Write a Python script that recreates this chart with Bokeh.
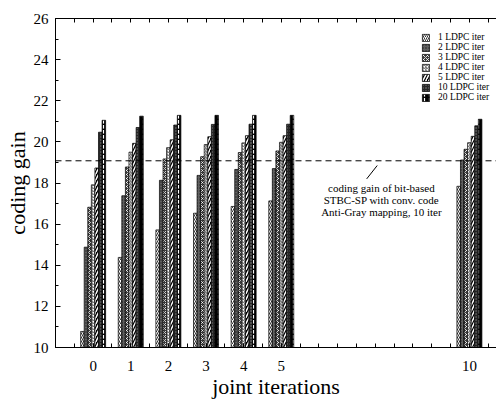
from bokeh.plotting import figure
from bokeh.models import (ColumnDataSource, Span, Label, FixedTicker, LinearAxis,
                          Legend, LegendItem, Range1d)
from bokeh.transform import dodge
from bokeh.embed import file_html
from bokeh.resources import INLINE

# ---- data -------------------------------------------------------------
groups = [0, 1, 2, 3, 4, 5, 10]
ldpc_1 = [10.78, 14.38, 15.72, 16.53, 16.86, 17.13, 17.84]
ldpc_2 = [14.88, 17.38, 18.13, 18.37, 18.66, 18.70, 19.12]
ldpc_3 = [16.82, 18.78, 19.17, 19.28, 19.48, 19.56, 19.64]
ldpc_4 = [17.91, 19.50, 19.72, 19.87, 19.95, 19.98, 19.96]
ldpc_5 = [18.73, 19.93, 20.10, 20.25, 20.30, 20.30, 20.27]
ldpc_10 = [20.47, 20.70, 20.82, 20.85, 20.86, 20.86, 20.78]
ldpc_20 = [21.05, 21.25, 21.29, 21.29, 21.29, 21.29, 21.10]
series_names = ["1 LDPC iter", "2 LDPC iter", "3 LDPC iter", "4 LDPC iter",
                "5 LDPC iter", "10 LDPC iter", "20 LDPC iter"]
reference_gain = 19.08
x_tick_values = [0, 1, 2, 3, 4, 5, 10]
y_tick_values = [10, 12, 14, 16, 18, 20, 22, 24, 26]
annotation_lines = ["coding gain of bit-based", "STBC-SP with conv. code",
                    "Anti-Gray mapping, 10 iter"]

series_values = [ldpc_1, ldpc_2, ldpc_3, ldpc_4, ldpc_5, ldpc_10, ldpc_20]
data = {"group": groups}
for i, vals in enumerate(series_values):
    data["s%d" % i] = vals
src = ColumnDataSource(data)

FONT = "Liberation Serif"

p = figure(width=496, height=408, output_backend="svg", toolbar_location=None,
           x_range=Range1d(-1, 10.72), y_range=Range1d(10, 26),
           min_border_left=55, min_border_right=0, min_border_top=18,
           min_border_bottom=61)
p.outline_line_color = None
p.xgrid.visible = False
p.ygrid.visible = False
p.background_fill_color = "white"

styles = [
    dict(fill_color="white", hatch_pattern="/", hatch_color="black", hatch_scale=4, hatch_weight=0.8),
    dict(fill_color="#606060", hatch_pattern=".", hatch_color="#202020", hatch_scale=3, hatch_weight=0.8),
    dict(fill_color="#3a3a3a", hatch_pattern="x", hatch_color="white", hatch_scale=4, hatch_weight=0.8),
    dict(fill_color="white", hatch_pattern="/", hatch_color="#555555", hatch_scale=3, hatch_weight=1.0),
    dict(fill_color="black", hatch_pattern="/", hatch_color="white", hatch_scale=6, hatch_weight=1.5),
    dict(fill_color="#262626", hatch_pattern=".", hatch_color="#8a8a8a", hatch_scale=3, hatch_weight=0.8),
    dict(fill_color="black", hatch_pattern="vertical_dash", hatch_color="white", hatch_scale=5, hatch_weight=1.2),
]

bw = 0.095
items = []
for i, name in enumerate(series_names):
    r = p.vbar(x=dodge("group", (i - 3) * bw, range=p.x_range), top="s%d" % i,
               bottom=10, width=bw, source=src, line_color="black",
               line_width=0.7, **styles[i])
    items.append(LegendItem(label=name, renderers=[r]))

# dashed reference line
p.add_layout(Span(location=reference_gain, dimension="width", line_color="black",
                  line_width=1, line_dash="6 4"))

# annotation
p.segment(x0=[7.55], y0=[18.85], x1=[7.27], y1=[18.2], line_color="black", line_width=1)
for k, txt in enumerate(annotation_lines):
    p.add_layout(Label(x=7.66, y=reference_gain, x_units="data", y_units="data",
                       y_offset=-27 - 12 * k, text=txt, text_font=FONT,
                       text_font_size="11px", text_align="center",
                       text_baseline="middle", text_color="black"))

# axes
half_steps = [t / 2 for t in range(-2, 22)]
xa = p.xaxis[0]
xa.ticker = FixedTicker(ticks=x_tick_values, minor_ticks=half_steps)
xa.major_tick_in = 4
xa.major_tick_out = 0
xa.minor_tick_in = 4
xa.minor_tick_out = 0
xa.axis_line_color = "black"
xa.major_tick_line_color = "black"
xa.minor_tick_line_color = "black"
xa.axis_label = "joint iterations"
xa.axis_label_text_font = FONT
xa.axis_label_text_font_style = "normal"
xa.axis_label_text_font_size = "22px"
xa.axis_label_text_color = "black"
xa.axis_label_standoff = 0
xa.major_label_text_font = FONT
xa.major_label_text_font_size = "15px"
xa.major_label_text_color = "black"
xa.major_label_standoff = 13

ya = p.yaxis[0]
ya.ticker = FixedTicker(ticks=y_tick_values, minor_ticks=list(range(10, 27)))
ya.major_tick_in = 5
ya.major_tick_out = 0
ya.minor_tick_in = 3
ya.minor_tick_out = 0
ya.axis_line_color = "black"
ya.major_tick_line_color = "black"
ya.minor_tick_line_color = "black"
ya.axis_label = "coding gain"
ya.axis_label_text_font = FONT
ya.axis_label_text_font_style = "normal"
ya.axis_label_text_font_size = "22px"
ya.axis_label_text_color = "black"
ya.axis_label_standoff = 1
ya.major_label_text_font = FONT
ya.major_label_text_font_size = "15px"
ya.major_label_text_color = "black"
ya.major_label_standoff = 7

top = LinearAxis(ticker=FixedTicker(ticks=[], minor_ticks=half_steps))
top.axis_line_color = "black"
top.minor_tick_in = 4
top.minor_tick_out = 0
top.minor_tick_line_color = "black"
top.major_tick_line_color = None
top.major_label_standoff = 0
p.add_layout(top, "above")

leg = Legend(items=items, location=(366, 245))
leg.label_text_font = FONT
leg.label_text_font_size = "9.5px"
leg.label_text_color = "black"
leg.glyph_width = 9
leg.glyph_height = 9
leg.label_height = 9
leg.spacing = 0
leg.padding = 2
leg.margin = 0
leg.label_standoff = 8
leg.border_line_color = None
leg.background_fill_alpha = 0
p.add_layout(leg)

open("out.html", "w").write(file_html(p, INLINE))
